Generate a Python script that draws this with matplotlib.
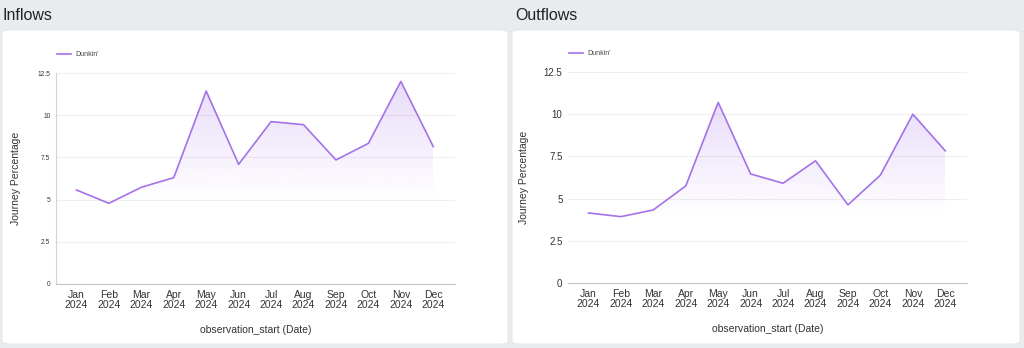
import numpy as np
import matplotlib
matplotlib.use("Agg")
import matplotlib.pyplot as plt
from matplotlib.patches import FancyBboxPatch
from matplotlib.colors import to_rgb

plt.rcParams["font.family"] = ["Liberation Sans", "DejaVu Sans"]

months = ["Jan", "Feb", "Mar", "Apr", "May", "Jun",
          "Jul", "Aug", "Sep", "Oct", "Nov", "Dec"]
year = "2024"
inflows = [5.57, 4.78, 5.73, 6.30, 11.43, 7.09, 9.62, 9.44, 7.35, 8.33, 12.0, 8.14]
outflows = [4.15, 3.93, 4.33, 5.75, 10.7, 6.46, 5.91, 7.24, 4.63, 6.39, 10.0, 7.83]
y_ticks = [0, 2.5, 5, 7.5, 10, 12.5]
y_tick_labels = ["0", "2.5", "5", "7.5", "10", "12.5"]
series_name = "Dunkin'"

LINE = "#a472e8"
BG = "#e9ecef"
W, H = 1024, 348

fig = plt.figure(figsize=(W / 100, H / 100), dpi=100)
fig.patch.set_facecolor(BG)


def px(x0, y0, x1, y1):
    # pixel box (top-left origin) -> figure fraction rect
    return [x0 / W, 1 - y1 / H, (x1 - x0) / W, (y1 - y0) / H]


def card(x0, y0, x1, y1):
    r = px(x0, y0, x1, y1)
    p = FancyBboxPatch((r[0], r[1]), r[2], r[3],
                       boxstyle="round,pad=0,rounding_size=0.008",
                       transform=fig.transFigure, facecolor="white",
                       edgecolor="#e2e5e8", linewidth=0.6, zorder=-5)
    fig.patches.append(p)


def panel(ax, values, tick_fs, show_spine):
    x = np.arange(len(values))
    vals = np.array(values)
    ax.plot(x, vals, color=LINE, lw=1.2, zorder=3)

    # gradient fill under the line, fading towards the minimum
    ymin, ymax = vals.min(), vals.max()
    poly = ax.fill_between(x, vals, ymin, color="none", lw=0)
    rgb = to_rgb(LINE)
    grad = np.zeros((256, 1, 4))
    grad[..., 0], grad[..., 1], grad[..., 2] = rgb
    grad[..., 3] = np.linspace(0.0, 0.25, 256)[:, None]
    im = ax.imshow(grad, extent=[0, len(values) - 1, ymin, ymax],
                   origin="lower", aspect="auto", zorder=2)
    path = poly.get_paths()[0]
    im.set_clip_path(path, transform=ax.transData)

    ax.set_xlim(-0.63, len(values) - 1 + 0.67)
    ax.set_ylim(0, 12.5)
    ax.set_yticks(y_ticks)
    ax.set_yticklabels(y_tick_labels, fontsize=tick_fs, color="#333333")
    ax.set_xticks(x)
    ax.set_xticklabels([f"{m}\n{year}" for m in months], fontsize=7.5,
                       color="#333333", linespacing=1.0)
    ax.tick_params(length=0, pad=4)
    ax.grid(axis="y", color="#efefef", lw=0.8)
    ax.set_axisbelow(True)
    for s in ["top", "right"]:
        ax.spines[s].set_visible(False)
    ax.spines["bottom"].set_color("#c4c4c4")
    ax.spines["left"].set_color("#d4d4d4")
    ax.spines["left"].set_visible(show_spine)
    ax.set_xlabel("observation_start (Date)", fontsize=7.5, color="#333333",
                  labelpad=11)
    ax.set_ylabel("Journey Percentage", fontsize=7.5, color="#333333")
    ax.set_facecolor("none")
    leg = ax.legend([series_name], loc="lower left",
                    bbox_to_anchor=(-0.012, 1.04), frameon=False,
                    fontsize=5, handlelength=2.0, handletextpad=0.6)
    leg.get_lines()[0].set_color(LINE)
    for t in leg.get_texts():
        t.set_color("#444444")


card(2, 30, 508, 344)
card(512, 30, 1020, 344)

fig.text(3 / W, 1 - 16 / H, "Inflows", fontsize=11.5, va="center",
         color="#222222")
fig.text(515 / W, 1 - 16 / H, "Outflows", fontsize=11.5, va="center",
         color="#222222")

ax1 = fig.add_axes(px(56, 73, 455, 284))
panel(ax1, inflows, 4.8, True)
ax1.yaxis.set_label_coords(-0.088, 0.5)

ax2 = fig.add_axes(px(568, 72, 967, 283))
panel(ax2, outflows, 7, False)
ax2.yaxis.set_label_coords(-0.097, 0.5)

fig.savefig("out.png", dpi=100, facecolor=fig.get_facecolor())
